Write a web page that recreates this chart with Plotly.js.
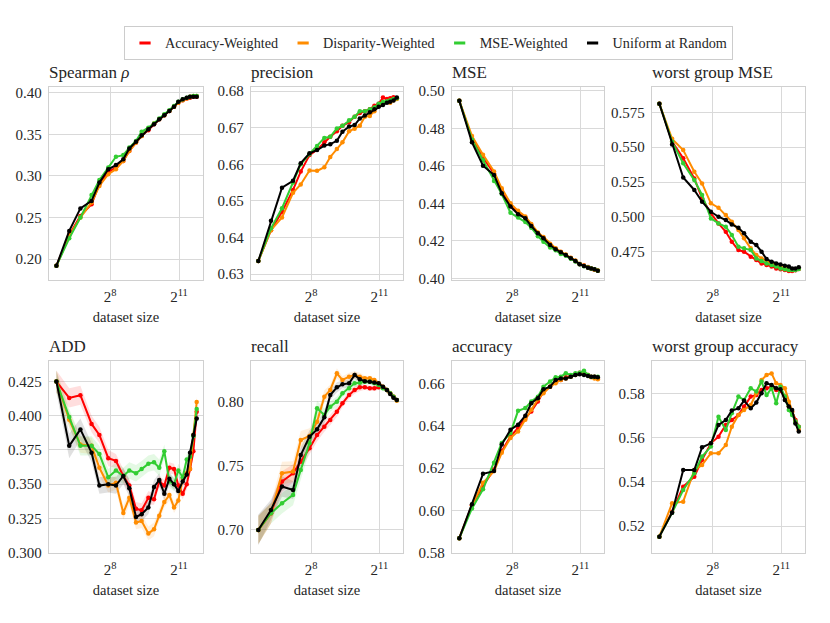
<!DOCTYPE html>
<html>
<head>
<meta charset="utf-8">
<script src="https://cdn.plot.ly/plotly-3.0.1.min.js"></script>
<style>html,body{margin:0;padding:0;background:#fff;}#chart{width:830px;height:623px;}</style>
</head>
<body>
<div id="chart"></div>
<script>
// dataset sizes (x)
var sizes = [51, 75, 105, 147, 186, 243, 306, 382, 458, 560, 664, 813, 963, 1128, 1314, 1530, 1760, 2003, 2286, 2580, 2850, 3150, 3485];

var seriesNames = ["Accuracy-Weighted", "Disparity-Weighted", "MSE-Weighted", "Uniform at Random"];
var seriesColors = ["#ff0000", "#ff8c00", "#32cd32", "#000000"];
var bandColors = ["rgba(255,0,0,0.13)", "rgba(255,140,0,0.13)", "rgba(50,205,50,0.13)", "rgba(0,0,0,0.12)"];

var panelTitles = ["Spearman <i>ρ</i>", "precision", "MSE", "worst group MSE", "ADD", "recall", "accuracy", "worst group accuracy"];

// Spearman rho
var spearman_acc  = [0.192, 0.229, 0.252, 0.266, 0.290, 0.305, 0.310, 0.318, 0.330, 0.340, 0.348, 0.355, 0.362, 0.368, 0.373, 0.378, 0.383, 0.388, 0.391, 0.393, 0.394, 0.395, 0.395];
var spearman_disp = [0.192, 0.228, 0.250, 0.268, 0.288, 0.302, 0.308, 0.318, 0.330, 0.340, 0.348, 0.357, 0.363, 0.368, 0.373, 0.378, 0.383, 0.388, 0.391, 0.393, 0.395, 0.396, 0.396];
var spearman_mse  = [0.192, 0.225, 0.250, 0.277, 0.295, 0.310, 0.323, 0.325, 0.334, 0.342, 0.353, 0.358, 0.363, 0.369, 0.374, 0.379, 0.384, 0.389, 0.392, 0.394, 0.395, 0.396, 0.396];
var spearman_unif = [0.192, 0.234, 0.261, 0.270, 0.292, 0.308, 0.313, 0.320, 0.333, 0.341, 0.349, 0.356, 0.362, 0.368, 0.373, 0.378, 0.383, 0.389, 0.392, 0.394, 0.395, 0.395, 0.395];

// precision
var precision_acc  = [0.6336, 0.6420, 0.6470, 0.6530, 0.6580, 0.6625, 0.6640, 0.6660, 0.6675, 0.6690, 0.6705, 0.6715, 0.6730, 0.6740, 0.6745, 0.6750, 0.6760, 0.6765, 0.6782, 0.6778, 0.6780, 0.6783, 0.6780];
var precision_disp = [0.6336, 0.6420, 0.6455, 0.6522, 0.6545, 0.6583, 0.6582, 0.6592, 0.6620, 0.6642, 0.6660, 0.6690, 0.6697, 0.6705, 0.6730, 0.6732, 0.6745, 0.6760, 0.6765, 0.6770, 0.6768, 0.6775, 0.6778];
var precision_mse  = [0.6336, 0.6425, 0.6480, 0.6550, 0.6600, 0.6628, 0.6650, 0.6672, 0.6675, 0.6698, 0.6705, 0.6720, 0.6730, 0.6745, 0.6745, 0.6750, 0.6755, 0.6765, 0.6770, 0.6772, 0.6775, 0.6778, 0.6780];
var precision_unif = [0.6336, 0.6446, 0.6536, 0.6555, 0.6603, 0.6630, 0.6639, 0.6651, 0.6655, 0.6664, 0.6689, 0.6703, 0.6707, 0.6725, 0.6733, 0.6742, 0.6750, 0.6757, 0.6762, 0.6768, 0.6771, 0.6774, 0.6782];

// MSE
var mse_acc  = [0.4947, 0.4745, 0.4645, 0.4560, 0.4470, 0.4390, 0.4350, 0.4325, 0.4285, 0.4242, 0.4215, 0.4180, 0.4157, 0.4140, 0.4125, 0.4108, 0.4092, 0.4076, 0.4068, 0.4060, 0.4052, 0.4046, 0.4040];
var mse_disp = [0.4947, 0.4760, 0.4660, 0.4570, 0.4480, 0.4400, 0.4360, 0.4330, 0.4290, 0.4245, 0.4220, 0.4185, 0.4160, 0.4142, 0.4127, 0.4110, 0.4095, 0.4077, 0.4068, 0.4058, 0.4053, 0.4047, 0.4042];
var mse_mse  = [0.4947, 0.4740, 0.4630, 0.4520, 0.4450, 0.4350, 0.4325, 0.4300, 0.4270, 0.4225, 0.4195, 0.4165, 0.4150, 0.4130, 0.4120, 0.4105, 0.4090, 0.4075, 0.4065, 0.4058, 0.4053, 0.4048, 0.4040];
var mse_unif = [0.4947, 0.4726, 0.4601, 0.4552, 0.4454, 0.4383, 0.4342, 0.4320, 0.4279, 0.4240, 0.4214, 0.4178, 0.4155, 0.4139, 0.4125, 0.4107, 0.4093, 0.4075, 0.4066, 0.4057, 0.4053, 0.4048, 0.4041];

// worst group MSE
var wgmse_acc  = [0.5812, 0.5540, 0.5420, 0.5276, 0.5133, 0.5025, 0.4953, 0.4893, 0.4822, 0.4762, 0.4750, 0.4714, 0.4690, 0.4666, 0.4654, 0.4643, 0.4630, 0.4624, 0.4619, 0.4612, 0.4612, 0.4617, 0.4626];
var wgmse_disp = [0.5812, 0.5560, 0.5480, 0.5324, 0.5240, 0.5097, 0.5066, 0.5013, 0.4965, 0.4905, 0.4846, 0.4774, 0.4726, 0.4702, 0.4683, 0.4666, 0.4654, 0.4643, 0.4630, 0.4626, 0.4619, 0.4624, 0.4630];
var wgmse_mse  = [0.5812, 0.5540, 0.5384, 0.5264, 0.5157, 0.4989, 0.4953, 0.4929, 0.4870, 0.4786, 0.4774, 0.4762, 0.4702, 0.4683, 0.4666, 0.4654, 0.4643, 0.4630, 0.4624, 0.4619, 0.4619, 0.4619, 0.4626];
var wgmse_unif = [0.5812, 0.5520, 0.5283, 0.5193, 0.5109, 0.5037, 0.5001, 0.4977, 0.4946, 0.4922, 0.4882, 0.4822, 0.4798, 0.4750, 0.4697, 0.4678, 0.4666, 0.4659, 0.4650, 0.4643, 0.4630, 0.4630, 0.4638];

// ADD
var add_acc  = [0.425, 0.413, 0.415, 0.394, 0.386, 0.369, 0.367, 0.356, 0.349, 0.332, 0.331, 0.340, 0.339, 0.352, 0.349, 0.362, 0.361, 0.349, 0.343, 0.350, 0.361, 0.374, 0.403];
var add_disp = [0.425, 0.397, 0.379, 0.378, 0.362, 0.349, 0.351, 0.329, 0.340, 0.322, 0.323, 0.314, 0.317, 0.327, 0.337, 0.342, 0.333, 0.338, 0.354, 0.358, 0.361, 0.386, 0.410];
var add_mse  = [0.425, 0.399, 0.378, 0.378, 0.372, 0.355, 0.360, 0.356, 0.360, 0.358, 0.361, 0.365, 0.366, 0.362, 0.374, 0.352, 0.350, 0.360, 0.355, 0.368, 0.370, 0.385, 0.405];
var add_unif = [0.425, 0.378, 0.390, 0.373, 0.349, 0.350, 0.349, 0.356, 0.347, 0.326, 0.328, 0.333, 0.348, 0.353, 0.343, 0.354, 0.350, 0.345, 0.352, 0.357, 0.373, 0.386, 0.398];
// ADD shaded band half-widths
var add_band_acc  = [0.008, 0.007, 0.007, 0.006, 0.006, 0.006, 0.005, 0.005, 0.005, 0.005, 0.005, 0.005, 0.004, 0.004, 0.004, 0.004, 0.004, 0.004, 0.004, 0.004, 0.004, 0.004, 0.004];
var add_band_disp = [0.008, 0.006, 0.006, 0.006, 0.006, 0.005, 0.005, 0.005, 0.005, 0.005, 0.005, 0.005, 0.005, 0.004, 0.004, 0.004, 0.004, 0.004, 0.004, 0.004, 0.004, 0.004, 0.004];
var add_band_mse  = [0.008, 0.006, 0.007, 0.007, 0.006, 0.006, 0.006, 0.006, 0.006, 0.006, 0.006, 0.006, 0.006, 0.006, 0.005, 0.005, 0.005, 0.005, 0.004, 0.004, 0.004, 0.004, 0.004];
var add_band_unif = [0.008, 0.009, 0.008, 0.007, 0.006, 0.006, 0.006, 0.006, 0.006, 0.005, 0.005, 0.005, 0.005, 0.005, 0.005, 0.005, 0.004, 0.004, 0.004, 0.004, 0.004, 0.004, 0.004];

// recall
var recall_acc  = [0.700, 0.7130, 0.7377, 0.7442, 0.7532, 0.7636, 0.7740, 0.7805, 0.7857, 0.7922, 0.7987, 0.8052, 0.8091, 0.8112, 0.8112, 0.8104, 0.8104, 0.8112, 0.8112, 0.8091, 0.8065, 0.8039, 0.8013];
var recall_disp = [0.700, 0.7130, 0.7442, 0.7455, 0.7701, 0.7733, 0.7844, 0.8039, 0.8091, 0.8221, 0.8169, 0.8195, 0.8208, 0.8195, 0.8182, 0.8182, 0.8169, 0.8143, 0.8117, 0.8091, 0.8065, 0.8039, 0.8008];
var recall_mse  = [0.700, 0.7130, 0.7208, 0.7273, 0.7468, 0.7675, 0.7948, 0.7896, 0.7961, 0.8000, 0.8065, 0.8104, 0.8143, 0.8148, 0.8156, 0.8156, 0.8143, 0.8130, 0.8104, 0.8091, 0.8065, 0.8039, 0.8013];
var recall_unif = [0.700, 0.7156, 0.7338, 0.7312, 0.7584, 0.7727, 0.7784, 0.7878, 0.8052, 0.8112, 0.8135, 0.8143, 0.8208, 0.8174, 0.8160, 0.8156, 0.8150, 0.8143, 0.8117, 0.8091, 0.8060, 0.8031, 0.8013];
// recall shaded band half-widths
var recall_band_acc  = [0.011, 0.008, 0.008, 0.007, 0.006, 0.005, 0.005, 0.004, 0.004, 0.004, 0.003, 0.003, 0.003, 0.003, 0.002, 0.002, 0.002, 0.002, 0.002, 0.002, 0.002, 0.002, 0.002];
var recall_band_disp = [0.011, 0.008, 0.009, 0.008, 0.007, 0.006, 0.005, 0.005, 0.004, 0.004, 0.003, 0.003, 0.003, 0.003, 0.002, 0.002, 0.002, 0.002, 0.002, 0.002, 0.002, 0.002, 0.002];
var recall_band_mse  = [0.011, 0.008, 0.008, 0.008, 0.007, 0.006, 0.006, 0.005, 0.004, 0.004, 0.003, 0.003, 0.003, 0.003, 0.002, 0.002, 0.002, 0.002, 0.002, 0.002, 0.002, 0.002, 0.002];
var recall_band_unif = [0.012, 0.008, 0.008, 0.007, 0.006, 0.005, 0.005, 0.005, 0.004, 0.004, 0.003, 0.003, 0.003, 0.003, 0.002, 0.002, 0.002, 0.002, 0.002, 0.002, 0.002, 0.002, 0.002];

// accuracy
var accuracy_acc  = [0.5870, 0.6025, 0.6116, 0.6194, 0.6280, 0.6350, 0.6389, 0.6436, 0.6467, 0.6514, 0.6561, 0.6584, 0.6608, 0.6616, 0.6628, 0.6634, 0.6642, 0.6650, 0.6647, 0.6639, 0.6631, 0.6631, 0.6623];
var accuracy_disp = [0.5870, 0.6025, 0.6131, 0.6186, 0.6272, 0.6342, 0.6373, 0.6428, 0.6475, 0.6525, 0.6553, 0.6584, 0.6600, 0.6616, 0.6623, 0.6631, 0.6639, 0.6647, 0.6647, 0.6639, 0.6628, 0.6623, 0.6619];
var accuracy_mse  = [0.5870, 0.6010, 0.6100, 0.6225, 0.6319, 0.6366, 0.6470, 0.6483, 0.6514, 0.6537, 0.6584, 0.6608, 0.6628, 0.6631, 0.6647, 0.6639, 0.6647, 0.6650, 0.6659, 0.6639, 0.6631, 0.6631, 0.6631];
var accuracy_unif = [0.5870, 0.6030, 0.6173, 0.6186, 0.6311, 0.6381, 0.6405, 0.6447, 0.6506, 0.6530, 0.6572, 0.6584, 0.6616, 0.6623, 0.6623, 0.6631, 0.6639, 0.6642, 0.6639, 0.6634, 0.6631, 0.6631, 0.6628];

// worst group accuracy
var wgacc_acc  = [0.5152, 0.5265, 0.5378, 0.5423, 0.5499, 0.5574, 0.5604, 0.5657, 0.5679, 0.5702, 0.5740, 0.5785, 0.5792, 0.5815, 0.5823, 0.5830, 0.5815, 0.5812, 0.5785, 0.5740, 0.5717, 0.5679, 0.5649];
var wgacc_disp = [0.5152, 0.5303, 0.5310, 0.5453, 0.5476, 0.5529, 0.5529, 0.5566, 0.5649, 0.5702, 0.5725, 0.5747, 0.5800, 0.5860, 0.5883, 0.5890, 0.5845, 0.5838, 0.5823, 0.5762, 0.5717, 0.5672, 0.5634];
var wgacc_mse  = [0.5152, 0.5260, 0.5363, 0.5438, 0.5514, 0.5559, 0.5694, 0.5634, 0.5710, 0.5785, 0.5770, 0.5823, 0.5808, 0.5853, 0.5792, 0.5823, 0.5755, 0.5830, 0.5785, 0.5725, 0.5702, 0.5672, 0.5649];
var wgacc_unif = [0.5152, 0.5260, 0.5453, 0.5453, 0.5556, 0.5574, 0.5657, 0.5679, 0.5722, 0.5732, 0.5767, 0.5732, 0.5758, 0.5800, 0.5845, 0.5838, 0.5823, 0.5818, 0.5770, 0.5740, 0.5725, 0.5664, 0.5627];

var panelData = [
  [spearman_acc, spearman_disp, spearman_mse, spearman_unif],
  [precision_acc, precision_disp, precision_mse, precision_unif],
  [mse_acc, mse_disp, mse_mse, mse_unif],
  [wgmse_acc, wgmse_disp, wgmse_mse, wgmse_unif],
  [add_acc, add_disp, add_mse, add_unif],
  [recall_acc, recall_disp, recall_mse, recall_unif],
  [accuracy_acc, accuracy_disp, accuracy_mse, accuracy_unif],
  [wgacc_acc, wgacc_disp, wgacc_mse, wgacc_unif]
];
var panelBands = [null, null, null, null,
  [add_band_acc, add_band_disp, add_band_mse, add_band_unif],
  [recall_band_acc, recall_band_disp, recall_band_mse, recall_band_unif],
  null, null];

var yTicks = [
  [0.20, 0.25, 0.30, 0.35, 0.40],
  [0.63, 0.64, 0.65, 0.66, 0.67, 0.68],
  [0.40, 0.42, 0.44, 0.46, 0.48, 0.50],
  [0.475, 0.500, 0.525, 0.550, 0.575],
  [0.300, 0.325, 0.350, 0.375, 0.400, 0.425],
  [0.70, 0.75, 0.80],
  [0.58, 0.60, 0.62, 0.64, 0.66],
  [0.52, 0.54, 0.56, 0.58]
];
var yFormats = [".2f", ".2f", ".2f", ".3f", ".3f", ".2f", ".2f", ".2f"];

// layout geometry
var W = 830, H = 623;
var colPx = [[49, 203], [251, 403], [452, 604], [652, 805]];
var rowPx = [[87, 280], [361, 553]];
var yRanges = [
  [0.175, 0.4068], [0.6284, 0.6811], [0.3991, 0.5021], [0.4547, 0.5932],
  [0.2997, 0.440], [0.682, 0.8317], [0.580, 0.6705], [0.5078, 0.5946]
];
var xRangeLog2 = [5.35, 12.04];

var FONT = "Liberation Serif";
var traces = [];
var layout = {
  width: W, height: H,
  margin: {l: 0, r: 0, t: 0, b: 0},
  paper_bgcolor: "#ffffff",
  plot_bgcolor: "#ffffff",
  font: {family: FONT, size: 14, color: "#262626"},
  showlegend: true,
  legend: {
    orientation: "h", x: 0.5163, xanchor: "center", y: 0.958, yanchor: "top",
    bordercolor: "#cccccc", borderwidth: 1, bgcolor: "#ffffff",
    font: {family: FONT, size: 14.2, color: "#262626"},
    itemwidth: 30, tracegroupgap: 0
  },
  annotations: []
};

for (var p = 0; p < 8; p++) {
  var n = p + 1;
  var xa = "x" + (n === 1 ? "" : n), ya = "y" + (n === 1 ? "" : n);
  var xKey = "xaxis" + (n === 1 ? "" : n), yKey = "yaxis" + (n === 1 ? "" : n);
  var col = p % 4, row = Math.floor(p / 4);
  if (panelBands[p]) {
    for (var b = 0; b < 4; b++) {
      var v = panelData[p][b], hw = panelBands[p][b];
      var bx = [], by = [];
      for (var i = 0; i < sizes.length; i++) { bx.push(sizes[i]); by.push(v[i] + hw[i]); }
      for (var j = sizes.length - 1; j >= 0; j--) { bx.push(sizes[j]); by.push(v[j] - hw[j]); }
      traces.push({
        type: "scatter", mode: "lines", x: bx, y: by, xaxis: xa, yaxis: ya,
        fill: "toself", fillcolor: bandColors[b], line: {width: 0, color: "rgba(0,0,0,0)"},
        showlegend: false, hoverinfo: "skip"
      });
    }
  }
  for (var s = 0; s < 4; s++) {
    traces.push({
      type: "scatter", mode: "lines+markers",
      x: sizes, y: panelData[p][s],
      xaxis: xa, yaxis: ya,
      name: seriesNames[s], showlegend: false,
      line: {color: seriesColors[s], width: 2},
      marker: {color: seriesColors[s], size: 4.5}
    });
  }
  layout[xKey] = {
    type: "log",
    domain: [colPx[col][0] / W, colPx[col][1] / W],
    range: [xRangeLog2[0] * Math.LOG10E * Math.LN2, xRangeLog2[1] * Math.LOG10E * Math.LN2],
    anchor: ya,
    tickvals: [256, 2048], ticktext: ["2<sup>8</sup>", "2<sup>11</sup>"],
    showgrid: true, gridcolor: "#d9d9d9", gridwidth: 1,
    showline: true, linecolor: "#d0d0d0", linewidth: 1.2, mirror: true,
    ticks: "", zeroline: false, ticklabelstandoff: 3,
    tickfont: {family: FONT, size: 15, color: "#262626"},
    title: {text: "dataset size", font: {family: FONT, size: 14.5, color: "#262626"}, standoff: 7}
  };
  layout[yKey] = {
    domain: [1 - rowPx[row][1] / H, 1 - rowPx[row][0] / H],
    range: yRanges[p],
    anchor: xa,
    tickvals: yTicks[p], tickformat: yFormats[p],
    showgrid: true, gridcolor: "#d9d9d9", gridwidth: 1,
    showline: true, linecolor: "#d0d0d0", linewidth: 1.2, mirror: true,
    ticks: "", zeroline: false, ticklabelstandoff: 3,
    tickfont: {family: FONT, size: 15, color: "#262626"}
  };
  layout.annotations.push({
    text: panelTitles[p], showarrow: false,
    xref: xa + " domain", yref: ya + " domain",
    x: 0, y: 1, xanchor: "left", yanchor: "bottom", yshift: 3, xshift: -2,
    font: {family: FONT, size: 17, color: "#262626"}
  });
}

// legend entries
for (var s2 = 0; s2 < 4; s2++) {
  traces.push({
    type: "scatter", mode: "markers",
    x: [null], y: [null],
    name: seriesNames[s2], showlegend: true,
    marker: {symbol: "line-ew-open", size: 8, color: seriesColors[s2], line: {color: seriesColors[s2], width: 3}}
  });
}

Plotly.newPlot("chart", traces, layout, {displayModeBar: false, staticPlot: true});
</script>
</body>
</html>
